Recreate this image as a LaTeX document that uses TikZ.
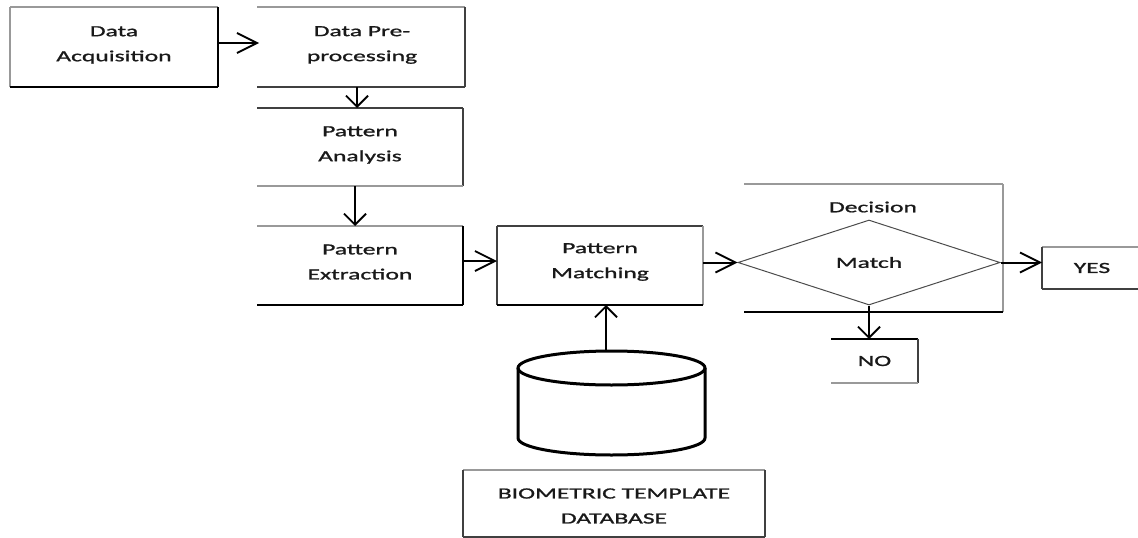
\documentclass[tikz,border=0pt]{standalone}
\usepackage{fontspec}
\setmainfont{Carlito}[FakeStretch=1.65, FakeBold=1.2]
\usetikzlibrary{arrows.meta,shapes.geometric}

\begin{document}
\begin{tikzpicture}[x=1pt,y=-1pt,
  txt/.style={font=\fontsize{15.5}{25}\selectfont, align=center, text=black!90},
  box/.style={txt, inner sep=0pt, outer sep=0pt},
  lite/.style={draw=black!40, line width=1.3pt},
  dark/.style={draw=black!75, line width=1.8pt},
  heavy/.style={draw=black, line width=2.6pt},
  hflow/.style={draw=black, line width=2pt,
    -{Straight Barb[length=20pt,width=20pt,line width=1.8pt]}},
  vflow/.style={draw=black, line width=2pt,
    -{Straight Barb[length=11pt,width=22pt,line width=1.8pt]}},
  cyl/.style={draw=black, line width=3pt},
]
\useasboundingbox (0,0) rectangle (1138,538);

% process boxes (text sits slightly above each frame's centre; frames are offset below)
\node[box, minimum width=208pt, minimum height=80pt] (acq) at (114,45) {Data\\Acquisition};
\node[box, minimum width=206pt, minimum height=80pt] (pre) at (362,45) {Data Pre-\\processing};
\node[box, minimum width=206pt, minimum height=78pt] (ana) at (360,145) {Pattern\\Analysis};
\node[box, minimum width=206pt, minimum height=79pt] (ext) at (360,262) {Pattern\\Extraction};
\node[box, minimum width=206pt, minimum height=79pt] (mat) at (600,262) {Pattern\\Matching};
\node[box, minimum width=259pt, minimum height=128pt] (dec) at (873.5,248) {};
\node[txt] (dectxt) at (873,207) {Decision};
\node[txt, draw=black!70, line width=1pt, shape=diamond, inner sep=0pt,
      minimum width=262pt, minimum height=85pt] (match) at (869,262.5) {Match};
\node[box, minimum width=100pt, minimum height=42pt] (yes) at (1092,268) {YES};
\node[box, minimum width=87pt, minimum height=44pt] (no) at (874.5,361) {NO};
\node[box, minimum width=302pt, minimum height=67pt] (dbt) at (614,506) {BIOMETRIC TEMPLATE\\DATABASE};
\node[inner sep=0pt, outer sep=0pt, minimum width=187pt, minimum height=104pt] (db) at (611.5,403) {};

% box borders: light top/left, heavy bottom/right
\draw[lite] ([yshift=-2pt]acq.north west) -- ([yshift=-2pt]acq.north east);
\draw[lite] ([yshift=-2pt]acq.north west) -- ([yshift=-2pt]acq.south west);
\draw[heavy] ([yshift=-2pt]acq.north east) -- ([yshift=-2pt]acq.south east);
\draw[heavy] ([yshift=-2pt]acq.south west) -- ([yshift=-2pt]acq.south east);

\draw[lite] ([shift={(-2pt,-2pt)}]pre.north west) -- ([yshift=-2pt]pre.north east);
\draw[dark] ([yshift=-2pt]pre.north east) -- ([yshift=-2pt]pre.south east);
\draw[dark] ([shift={(-2pt,-2pt)}]pre.south west) -- ([yshift=-2pt]pre.south east);

\draw[dark] ([yshift=-2pt]ana.north west) -- ([yshift=-2pt]ana.north east);
\draw[dark] ([yshift=-2pt]ana.north east) -- ([yshift=-2pt]ana.south east);
\draw[lite] ([yshift=-2pt]ana.south west) -- ([yshift=-2pt]ana.south east);

\draw[lite] ([yshift=-3.5pt]ext.north west) -- ([yshift=-3.5pt]ext.north east);
\draw[heavy] ([yshift=-3.5pt]ext.north east) -- ([yshift=-3.5pt]ext.south east);
\draw[heavy] ([yshift=-3.5pt]ext.south west) -- ([yshift=-3.5pt]ext.south east);

\draw[dark] ([yshift=-3.5pt]mat.north west) -- ([yshift=-3.5pt]mat.north east);
\draw[dark] ([yshift=-3.5pt]mat.north west) -- ([yshift=-3.5pt]mat.south west);
\draw[lite] ([yshift=-3.5pt]mat.north east) -- ([yshift=-3.5pt]mat.south east);
\draw[heavy] ([yshift=-3.5pt]mat.south west) -- ([yshift=-3.5pt]mat.south east);

\draw[lite] (dec.north west) -- (dec.north east);
\draw[lite] (dec.north east) -- (dec.south east);
\draw[heavy] (dec.south west) -- (dec.south east);

\draw[lite] (yes.north west) -- (yes.north east);
\draw[dark] (yes.north west) -- (yes.south west);
\draw[dark] (yes.south west) -- (yes.south east);

\draw[heavy] (no.north west) -- (no.north east);
\draw[dark] (no.north east) -- (no.south east);
\draw[lite] (no.south west) -- (no.south east);

\draw[lite] ([yshift=2.5pt]dbt.north west) -- ([yshift=2.5pt]dbt.north east);
\draw[dark] ([yshift=2.5pt]dbt.north west) -- ([yshift=2.5pt]dbt.south west);
\draw[dark] ([yshift=2.5pt]dbt.north east) -- ([yshift=2.5pt]dbt.south east);
\draw[dark] ([yshift=2.5pt]dbt.south west) -- ([yshift=2.5pt]dbt.south east);

% database cylinder
\draw[cyl] ([yshift=-17pt]db.north) ellipse [x radius=93.5pt, y radius=17pt];
\draw[cyl] ([yshift=-17pt]db.north west) -- ([yshift=17pt]db.south west)
  arc[start angle=180, end angle=360, x radius=93.5pt, y radius=17pt]
  -- ([yshift=-17pt]db.north east);

% flow connectors
\draw[hflow] ([yshift=2pt]acq.east) -- ([yshift=2pt]acq.east -| pre.west);
\draw[vflow] ([xshift=-5pt,yshift=-2pt]pre.south) -- ([xshift=-3pt,yshift=-2pt]ana.north);
\draw[vflow] ([xshift=-5pt,yshift=-2pt]ana.south) -- ([xshift=-5pt,yshift=-3.5pt]ext.north);
\draw[hflow] ([yshift=1pt]ext.east) -- ([yshift=1pt]mat.west);
\draw[hflow] (mat.east |- match.west) -- (match.west);
\draw[hflow] (match.east) -- (match.east -| yes.west);
\draw[vflow] (match.south) -- (match.south |- no.north);
\draw[vflow] ([xshift=-5.5pt]db.north) -- ([xshift=-5.5pt,yshift=-3.5pt]db.north |- mat.south);
\end{tikzpicture}
\end{document}
